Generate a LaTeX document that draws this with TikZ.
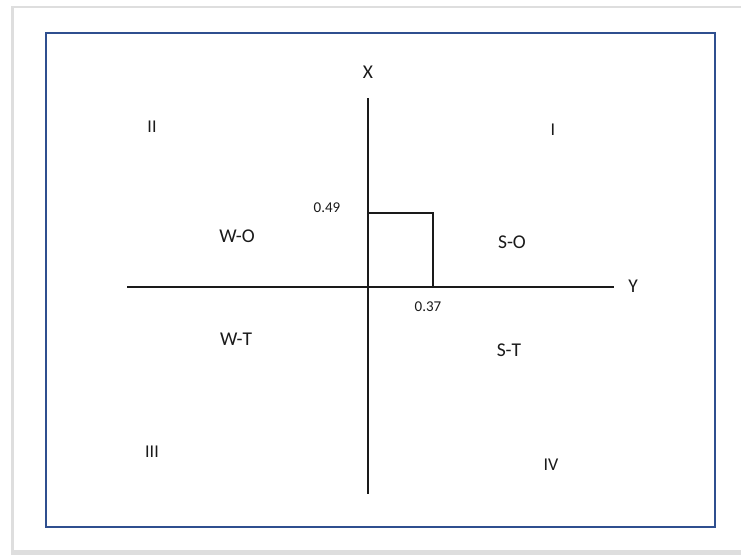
\documentclass[tikz,border=0pt]{standalone}
\usepackage{fontspec}
\setmainfont{Carlito}
\usetikzlibrary{positioning}
\definecolor{frameblue}{HTML}{2F4F8F}
\definecolor{shade}{HTML}{C8C8C8}
\definecolor{ink}{HTML}{1A1A1A}
\tikzset{
  axis/.style={line width=1.6pt,ink},
  quad/.style={font=\fontsize{18}{21}\selectfont,text=ink,inner sep=0pt},
  zone/.style={font=\fontsize{19.5}{23}\selectfont,text=ink,inner sep=0pt},
  val/.style={font=\fontsize{15}{18}\selectfont,text=ink,inner sep=0pt}
}
\begin{document}
\begin{tikzpicture}[x=1pt,y=-1pt]
  \useasboundingbox (0,0) rectangle (741,555);
  % card with soft shadow
  \fill[shade!60] (11,6) rectangle (741,555);
  \fill[white] (14,8) rectangle (741,550);
  \draw[frameblue,line width=1.8pt] (46,33) rectangle (715,527);
  % axes
  \coordinate (top) at (368,98);
  \coordinate (bot) at (368,494);
  \coordinate (left) at (127,287);
  \coordinate (right) at (614,287);
  \draw[axis] (top) -- (bot);
  \draw[axis] (left) -- (right);
  % point box
  \coordinate (o) at (368,287);
  \coordinate (px) at (433,287);
  \coordinate (py) at (368,213);
  \coordinate (p) at (433,213);
  \draw[axis] (py) -- (p) -- (px);
  \node[zone] (xlab) at (368,72) {X};
  \node[zone] (ylab) at (633,286) {Y};
  \node[val] (v49) at (327,208) {0.49};
  \node[val] (v37) at (428,307) {0.37};
  % quadrants
  \node[quad] (q1) at (553,130) {I};
  \node[quad] (q2) at (152,127) {II};
  \node[quad] (q3) at (152,452) {III};
  \node[quad] (q4) at (551,465) {IV};
  \node[zone] (wo) at (237,236) {W-O};
  \node[zone] (so) at (512,242) {S-O};
  \node[zone] (wt) at (236,339) {W-T};
  \node[zone] (st) at (509,350) {S-T};
\end{tikzpicture}
\end{document}
